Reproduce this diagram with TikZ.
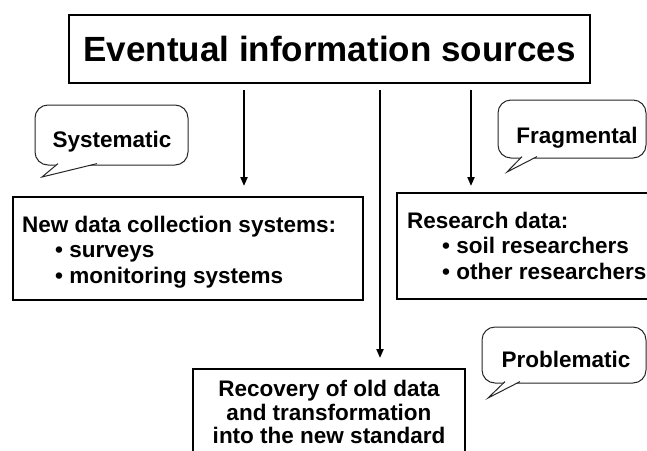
\documentclass[tikz,border=0pt]{standalone}
\usepackage{fontspec}
\setmainfont{Liberation Sans}
\usetikzlibrary{arrows.meta}
\begin{document}
\begin{tikzpicture}[x=1pt,y=-1pt,
  box/.style={draw=black, line width=2pt, inner sep=0pt},
  txt/.style={font=\fontsize{22.5}{25.5}\selectfont\bfseries, inner sep=0pt},
  arr/.style={line width=2pt, -{Triangle[length=9pt,width=7pt]}},
  bubble/.style={draw=black!85, line width=1pt, fill=white, rounded corners=13pt},
  tail/.style={draw=black!85, line width=1pt, fill=white}]
\useasboundingbox (0,0) rectangle (647,450);
\clip (0,0) rectangle (647,450);

% title
\node[box, minimum width=521pt, minimum height=68pt,
      font=\fontsize{35}{40}\selectfont\bfseries] (title) at (329.5,49) {Eventual information sources};

% boxes
\node[box, minimum width=350pt, minimum height=103pt] (lbox) at (188,248.5) {};
\node[box, minimum width=262pt, minimum height=106pt] (rbox) at (528,246) {};
\node[box, minimum width=272pt, minimum height=101pt] (bbox) at (329,419.5) {};

\node[txt, align=left, anchor=north west] (ltext) at (22,215.5)
  {New data collection systems:\\\hspace{33pt}\textbullet{} surveys\\\hspace{33pt}\textbullet{} monitoring systems};
\node[txt, align=left, anchor=north west] (rtext) at (407,211.5)
  {Research data:\\\hspace{35pt}\textbullet{} soil researchers\\\hspace{35pt}\textbullet{} other researchers};
\node[txt, font=\fontsize{22.5}{23.5}\selectfont\bfseries, align=center, anchor=north] (btext) at (329,380)
  {Recovery of old data\\and transformation\\into the new standard};

% arrows
\coordinate (a1) at (244,90);
\coordinate (a2) at (380,90);
\coordinate (a3) at (471,90);
\draw[arr, shorten <=6pt, shorten >=10pt] (title.south -| a1) -- (lbox.north -| a1);
\draw[arr, shorten <=6pt, shorten >=10pt] (title.south -| a2) -- (bbox.north -| a2);
\draw[arr, shorten <=6pt, shorten >=6pt] (title.south -| a3) -- (rbox.north -| a3);

% callouts
\draw[bubble] (35,105) rectangle (188,165);
\draw[tail] (58,163.6) -- (42,177) -- (97,163.6);
\node[txt, anchor=base] (sys) at (112,147) {Systematic};

\draw[bubble] (498,100) rectangle (646,158);
\draw[tail] (522,156.6) -- (507,172) -- (537,156.6);
\node[txt, anchor=base] (frag) at (577,143) {Fragmental};

\draw[bubble] (482,327) rectangle (646,383);
\draw[tail] (505,381.6) -- (488,398) -- (520,381.6);
\node[txt, anchor=base] (prob) at (566,367) {Problematic};
\end{tikzpicture}
\end{document}
